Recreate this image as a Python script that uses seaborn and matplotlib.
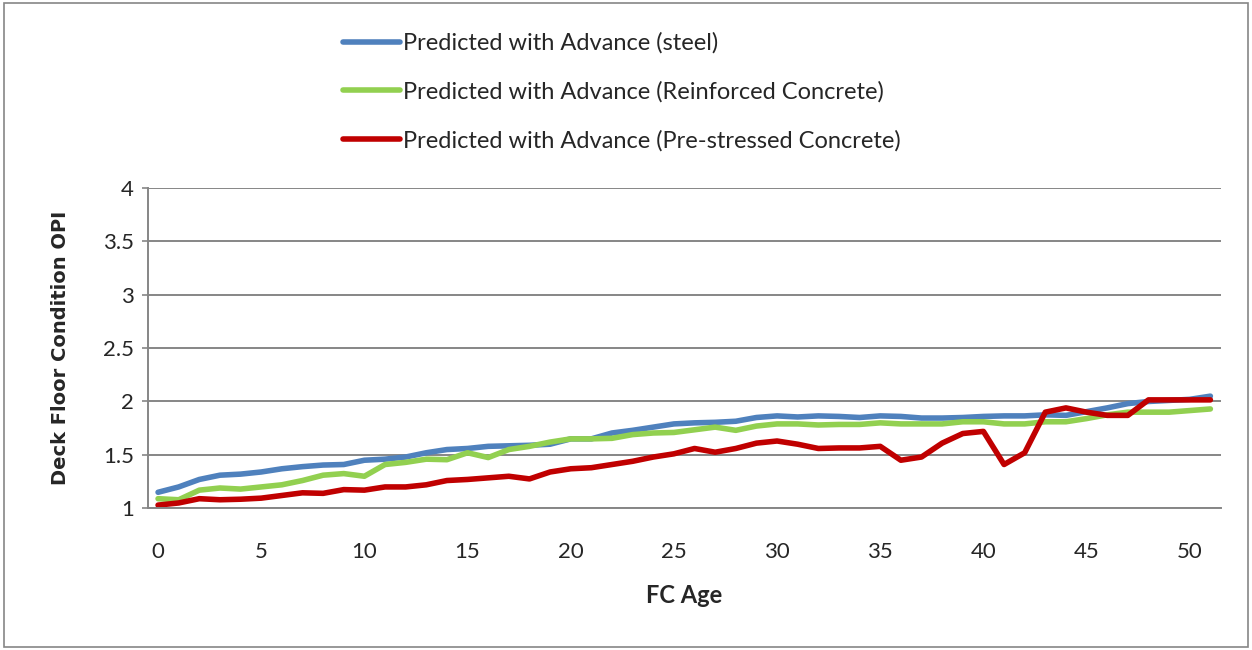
import matplotlib.pyplot as plt
from matplotlib.patches import Rectangle
from matplotlib.ticker import FixedLocator
import seaborn as sns
import pandas as pd

# FC age categories
fc_age = list(range(52))

steel = [1.15, 1.20, 1.27, 1.31, 1.32, 1.34, 1.37, 1.39, 1.405, 1.41,
         1.45, 1.46, 1.48, 1.52, 1.55, 1.56, 1.58, 1.585, 1.59, 1.60,
         1.65, 1.65, 1.705, 1.73, 1.76, 1.79, 1.80, 1.805, 1.815, 1.85,
         1.865, 1.855, 1.865, 1.86, 1.85, 1.865, 1.86, 1.845, 1.845, 1.85,
         1.86, 1.865, 1.865, 1.875, 1.87, 1.905, 1.94, 1.98, 2.00, 2.01,
         2.02, 2.05]

reinforced = [1.09, 1.08, 1.17, 1.19, 1.18, 1.20, 1.22, 1.26, 1.31, 1.325,
              1.30, 1.41, 1.43, 1.46, 1.455, 1.52, 1.475, 1.55, 1.58, 1.62,
              1.65, 1.65, 1.655, 1.69, 1.705, 1.71, 1.735, 1.76, 1.73, 1.77,
              1.79, 1.79, 1.78, 1.785, 1.785, 1.80, 1.79, 1.79, 1.79, 1.81,
              1.81, 1.79, 1.79, 1.81, 1.81, 1.84, 1.875, 1.90, 1.90, 1.90,
              1.915, 1.93]

prestressed = [1.03, 1.05, 1.09, 1.08, 1.085, 1.095, 1.12, 1.145, 1.14, 1.175,
               1.17, 1.20, 1.20, 1.22, 1.26, 1.27, 1.285, 1.30, 1.275, 1.34,
               1.37, 1.38, 1.41, 1.44, 1.48, 1.51, 1.56, 1.525, 1.56, 1.61,
               1.63, 1.60, 1.56, 1.565, 1.565, 1.58, 1.45, 1.48, 1.61, 1.70,
               1.72, 1.41, 1.52, 1.90, 1.94, 1.90, 1.87, 1.87, 2.015, 2.015,
               2.015, 2.015]

series_names = ["Predicted with Advance (steel)",
                "Predicted with Advance (Reinforced Concrete)",
                "Predicted with Advance (Pre-stressed Concrete)"]
colors = ["#4F81BD", "#92D050", "#C00000"]

df = pd.concat([
    pd.DataFrame({"FC Age": fc_age, "OPI": vals, "series": name})
    for name, vals in zip(series_names, [steel, reinforced, prestressed])
])

sns.set_style("white")
plt.rcParams["font.family"] = ["Lato", "DejaVu Sans"]

fig = plt.figure(figsize=(12.52, 6.5), dpi=100)
ax = fig.add_axes([0.118, 0.218, 0.857, 0.493])

sns.lineplot(data=df, x="FC Age", y="OPI", hue="series", hue_order=series_names,
             palette=colors, linewidth=4.0, ax=ax, legend=True)

# axes styling
ax.set_xlim(-0.5, 51.5)
ax.set_ylim(1, 4)
ax.set_yticks([1, 1.5, 2, 2.5, 3, 3.5, 4])
ax.set_yticklabels(["1", "1.5", "2", "2.5", "3", "3.5", "4"])
ax.yaxis.grid(True, color="#868686", linewidth=1.4)
ax.set_axisbelow(True)
for side in ["top", "right"]:
    ax.spines[side].set_visible(False)
for side in ["left", "bottom"]:
    ax.spines[side].set_color("#868686")
    ax.spines[side].set_linewidth(1.4)

ax.set_xticks(list(range(0, 51, 5)))
ax.xaxis.set_minor_locator(FixedLocator([i - 0.5 for i in range(53)]))
ax.tick_params(axis="x", which="major", length=0, pad=24, labelsize=16)
ax.tick_params(axis="x", which="minor", length=7, width=1.2, color="#868686", direction="out")
ax.tick_params(axis="y", length=4, width=1.2, color="#868686", direction="out",
               pad=6, labelsize=16, left=True)

ax.set_xlabel("FC Age", fontsize=17, fontweight="bold", labelpad=16)
ax.set_ylabel("Deck Floor Condition OPI", fontsize=14, fontweight="bold",
              family="DejaVu Sans", labelpad=24)

# legend above the plot
handles, labels = ax.get_legend_handles_labels()
ax.legend_.remove()
fig.legend(handles, labels, loc="upper left", bbox_to_anchor=(0.257, 0.983),
           frameon=False, fontsize=17, handlelength=2.4, handletextpad=0.13,
           labelspacing=1.15)

# outer chart border
fig.patches.append(Rectangle((0.003, 0.004), 0.994, 0.992, transform=fig.transFigure,
                             fill=False, edgecolor="#868686", linewidth=1.2))

fig.savefig("out.png", dpi=100)
